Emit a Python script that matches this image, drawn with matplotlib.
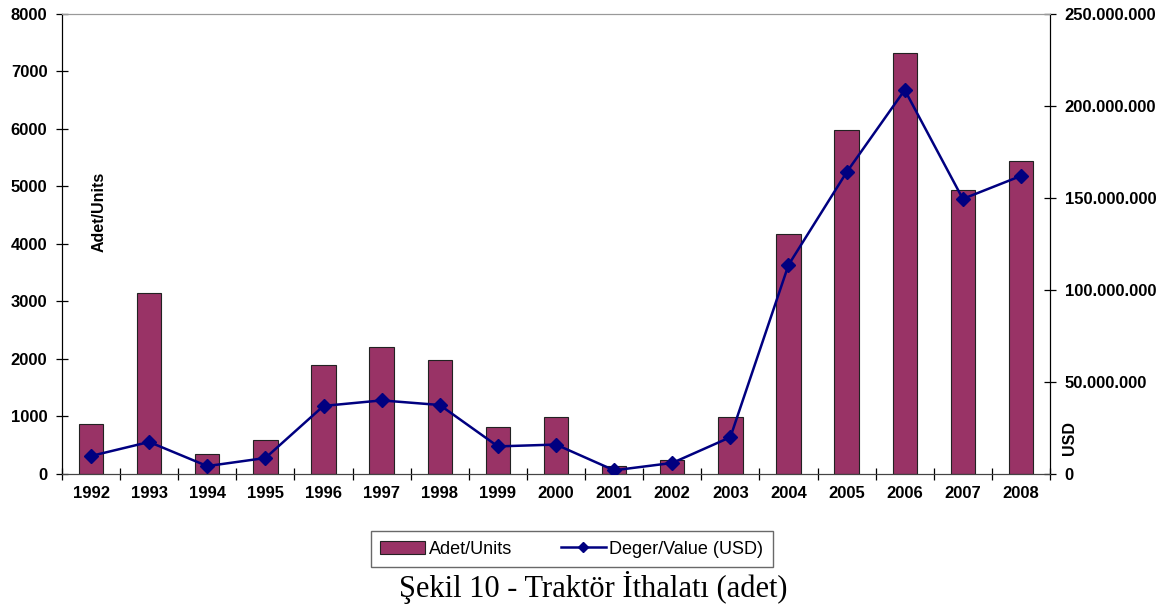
import matplotlib.pyplot as plt
from matplotlib.ticker import FuncFormatter, FixedLocator
from matplotlib.patches import Patch
from matplotlib.lines import Line2D

years = ["1992", "1993", "1994", "1995", "1996", "1997", "1998", "1999", "2000",
         "2001", "2002", "2003", "2004", "2005", "2006", "2007", "2008"]
units = [870, 3150, 350, 590, 1900, 2210, 1980, 820, 990,
         140, 240, 990, 4170, 5980, 7320, 4940, 5440]
value_usd = [9.8e6, 17.4e6, 4.3e6, 8.7e6, 37e6, 40e6, 37.5e6, 15e6, 16e6,
             2e6, 6e6, 20e6, 113.6e6, 164e6, 208.7e6, 149.5e6, 162e6]

bar_color = "#993366"
line_color = "#000080"
sans = ["Liberation Sans", "DejaVu Sans"]

fig = plt.figure(figsize=(11.74, 6.08), dpi=100)
ax = fig.add_axes([0.0528, 0.2204, 0.8416, 0.7566])
ax2 = ax.twinx()

x = range(len(years))
ax.bar(x, units, width=0.42, color=bar_color, edgecolor="#222222", linewidth=0.8, zorder=2)
ax2.plot(x, value_usd, color=line_color, linewidth=1.8, marker="D", markersize=7, zorder=3)

ax.set_xlim(-0.5, len(years) - 0.5)
ax.set_ylim(0, 8000)
ax2.set_ylim(0, 250e6)

ax.set_xticks(list(x))
ax.set_xticklabels(years)
ax.xaxis.set_minor_locator(FixedLocator([i - 0.5 for i in range(len(years) + 1)]))
ax.tick_params(axis="x", which="major", length=0, pad=9)
ax.tick_params(axis="x", which="minor", direction="inout", length=9, width=0.9)
ax.set_yticks(range(0, 8001, 1000))
ax.tick_params(axis="y", direction="inout", length=9, width=0.9, pad=6)
ax2.set_yticks([0, 50e6, 100e6, 150e6, 200e6, 250e6])
ax2.yaxis.set_major_formatter(FuncFormatter(lambda v, p: f"{int(v):,}".replace(",", ".")))
ax2.tick_params(axis="y", direction="inout", length=9, width=0.9, pad=6)

for a in (ax, ax2):
    for lbl in a.get_xticklabels() + a.get_yticklabels():
        lbl.set_fontfamily(sans)
        lbl.set_fontweight("bold")
        lbl.set_fontsize(12)

for a in (ax, ax2):
    a.spines["top"].set_color("#999999")
    a.spines["left"].set_color("black")
    a.spines["right"].set_color("black")
    a.spines["bottom"].set_color("#444444")

ax.text(0.038, 0.57, "Adet/Units", transform=ax.transAxes, rotation=90,
        fontsize=11.5, fontweight="bold", family=sans, ha="center", va="center")
fig.text(0.911, 0.28, "USD", rotation=90, fontsize=11.5, fontweight="bold",
         family=sans, ha="center", va="center")

handles = [Patch(facecolor=bar_color, edgecolor="#222222", linewidth=0.8),
           Line2D([], [], color=line_color, linewidth=1.8, marker="D", markersize=5)]
leg = fig.legend(handles, ["Adet/Units", "Deger/Value (USD)"], loc="center",
                 bbox_to_anchor=(0.487, 0.097), ncol=2, frameon=True, fancybox=False,
                 prop={"family": sans, "size": 13}, columnspacing=2.7,
                 handlelength=2.5, borderpad=0.5, handletextpad=0.2)
leg.get_frame().set_edgecolor("#444444")
leg.get_frame().set_linewidth(1.0)

fig.text(0.505, 0.033, "Şekil 10 - Traktör İthalatı (adet)", ha="center", va="center",
         fontsize=22, family=["Liberation Serif", "DejaVu Serif"])

fig.savefig("out.png", dpi=100)
